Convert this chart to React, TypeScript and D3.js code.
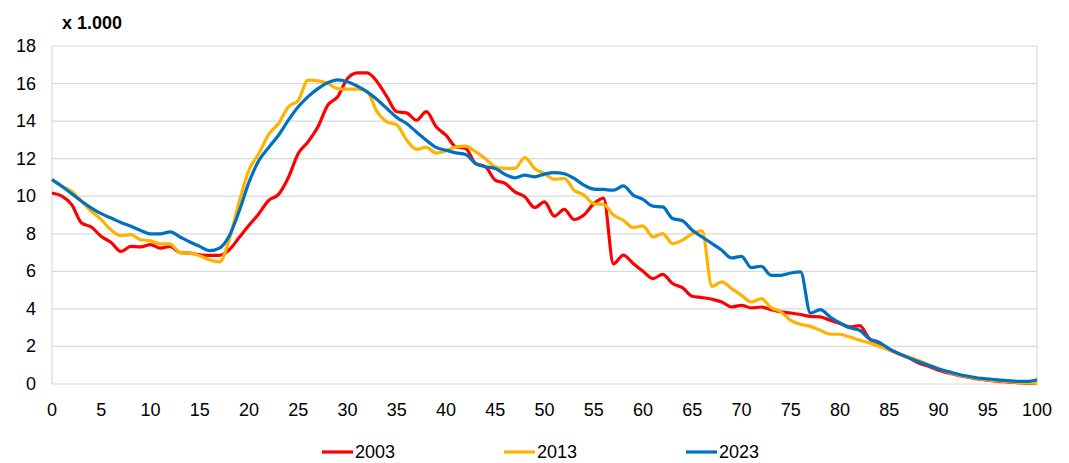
import * as d3 from 'd3'

const ages = d3.range(0, 101)

const y2003 = [10.17, 10.0, 9.55, 8.57, 8.36, 7.86, 7.54, 7.06, 7.33, 7.3, 7.42, 7.24, 7.33, 7.0, 6.97, 6.88, 6.85, 6.85, 7.15, 7.8,
  8.45, 9.07, 9.78, 10.1, 11.0, 12.27, 12.9, 13.7, 14.85, 15.3, 16.27, 16.57, 16.57, 16.1, 15.3, 14.5, 14.44, 14.05, 14.5, 13.7,
  13.25, 12.63, 12.54, 11.74, 11.57, 10.86, 10.68, 10.23, 9.97, 9.4, 9.7, 8.94, 9.3, 8.76, 9.0, 9.6, 9.9, 6.4, 6.86, 6.42,
  6.0, 5.61, 5.84, 5.35, 5.13, 4.67, 4.6, 4.51, 4.37, 4.1, 4.19, 4.05, 4.1, 3.96, 3.84, 3.78, 3.7, 3.6, 3.57, 3.39,
  3.22, 3.04, 3.11, 2.4, 2.15, 1.83, 1.6, 1.39, 1.12, 0.94, 0.73, 0.59, 0.45, 0.36, 0.27, 0.2, 0.14, 0.11, 0.07, 0.05, 0.05]

const y2013 = [10.88, 10.53, 10.26, 9.73, 9.2, 8.75, 8.2, 7.9, 7.95, 7.68, 7.63, 7.47, 7.45, 7.0, 6.97, 6.83, 6.6, 6.5, 7.7, 9.7,
  11.4, 12.27, 13.3, 13.87, 14.76, 15.1, 16.18, 16.14, 16.0, 15.73, 15.7, 15.7, 15.56, 14.5, 13.96, 13.8, 13.0, 12.5, 12.6, 12.3,
  12.42, 12.63, 12.67, 12.37, 12.0, 11.57, 11.48, 11.48, 12.06, 11.48, 11.2, 10.9, 10.95, 10.32, 10.06, 9.6, 9.56, 9.0, 8.72, 8.33,
  8.42, 7.83, 8.01, 7.48, 7.66, 8.01, 8.15, 5.2, 5.44, 5.08, 4.72, 4.37, 4.55, 4.07, 3.84, 3.39, 3.18, 3.07, 2.86, 2.65,
  2.65, 2.5, 2.33, 2.19, 2.0, 1.8, 1.6, 1.44, 1.25, 1.03, 0.82, 0.63, 0.48, 0.38, 0.29, 0.22, 0.16, 0.12, 0.09, 0.07, 0.05]

const y2023 = [10.88, 10.53, 10.13, 9.73, 9.37, 9.07, 8.84, 8.6, 8.4, 8.18, 7.99, 8.0, 8.1, 7.83, 7.56, 7.33, 7.1, 7.24, 7.9, 9.2,
  10.75, 11.9, 12.6, 13.25, 14.05, 14.76, 15.3, 15.73, 16.05, 16.2, 16.1, 15.86, 15.56, 15.15, 14.67, 14.2, 13.87, 13.42, 12.98, 12.6,
  12.45, 12.31, 12.22, 11.74, 11.57, 11.48, 11.16, 10.98, 11.12, 11.03, 11.18, 11.26, 11.2, 10.95, 10.59, 10.38, 10.36, 10.32, 10.55, 10.06,
  9.83, 9.47, 9.43, 8.81, 8.69, 8.19, 7.83, 7.48, 7.12, 6.71, 6.8, 6.2, 6.27, 5.79, 5.79, 5.91, 5.97, 3.78, 3.96, 3.57,
  3.25, 2.99, 2.86, 2.4, 2.22, 1.87, 1.62, 1.39, 1.18, 1.0, 0.8, 0.66, 0.52, 0.41, 0.32, 0.27, 0.22, 0.18, 0.14, 0.14, 0.23]

const seriesNames = ['2003', '2013', '2023']
const seriesValues = [y2003, y2013, y2023]
const colors = ['#ff0000', '#ffb300', '#0070c0']

const xTicks = d3.range(0, 101, 5)
const yTicks = d3.range(0, 19, 2)

export default function App() {
  const width = 1069, height = 463
  const margin = {top: 46, right: 32, bottom: 79, left: 52}

  const x = d3.scaleLinear().domain([0, 100]).range([margin.left, width - margin.right])
  const y = d3.scaleLinear().domain([0, 18]).range([height - margin.bottom, margin.top])

  const line = d3.line<number>()
    .x((d, i) => x(ages[i]))
    .y(d => y(d))
    .curve(d3.curveMonotoneX)

  const font = 'Liberation Sans, Arial, sans-serif'
  const legendX = [322, 504, 686]

  return (
    <svg width={width} height={height} style={{position: 'absolute', left: 0, top: 0}} fontFamily={font}>
      {/* gridlines */}
      {yTicks.map(t => (
        <line key={t} x1={x(0)} x2={x(100)} y1={y(t)} y2={y(t)} stroke="#d9d9d9" strokeWidth={1.2} />
      ))}
      <line x1={x(0)} x2={x(0)} y1={y(0)} y2={y(18)} stroke="#d9d9d9" strokeWidth={1.2} />
      <line x1={x(100)} x2={x(100)} y1={y(0)} y2={y(18)} stroke="#d9d9d9" strokeWidth={1.2} />

      {/* y labels */}
      {yTicks.map(t => (
        <text key={t} x={36} y={y(t) + 6} textAnchor="end" fontSize={18} fill="#000">{t}</text>
      ))}
      <text x={62} y={29} fontSize={18} fontWeight="bold" fill="#000">x 1.000</text>

      {/* x labels */}
      {xTicks.map(t => (
        <text key={t} x={x(t)} y={416} textAnchor="middle" fontSize={18} fill="#000">{t}</text>
      ))}

      {seriesValues.map((vals, i) => (
        <path key={seriesNames[i]} d={line(vals) || ''} fill="none" stroke={colors[i]} strokeWidth={3.2} strokeLinejoin="round" />
      ))}

      {/* legend */}
      {seriesNames.map((n, i) => (
        <g key={n}>
          <line x1={legendX[i]} x2={legendX[i] + 31} y1={452} y2={452} stroke={colors[i]} strokeWidth={3.2} />
          <text x={legendX[i] + 33} y={458} fontSize={18} fill="#000">{n}</text>
        </g>
      ))}
    </svg>
  )
}
